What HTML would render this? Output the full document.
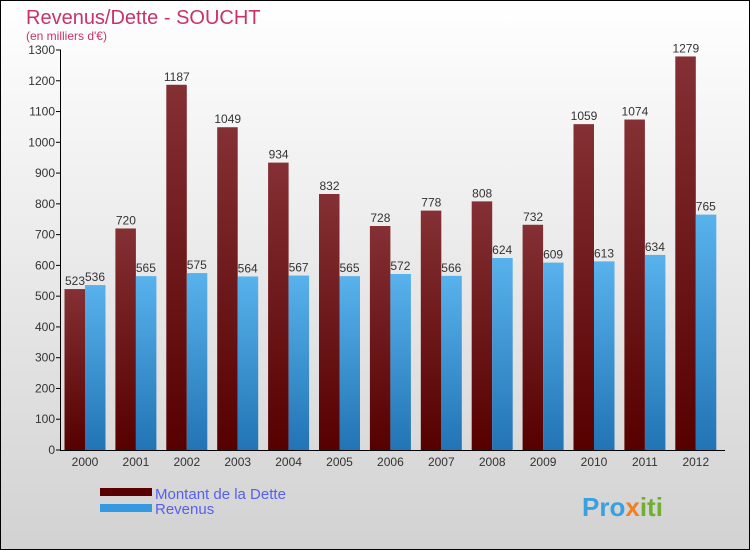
<!DOCTYPE html>
<html><head><meta charset="utf-8"><style>
body{margin:0;width:750px;height:550px;overflow:hidden}
svg{display:block;font-family:"Liberation Sans",sans-serif}
</style></head><body>
<svg id="c" width="750" height="550">
<defs>
<linearGradient id="bg" x1="0" y1="0" x2="0" y2="1"><stop offset="0" stop-color="#ffffff"/><stop offset="1" stop-color="#d2d2d2"/></linearGradient>
<linearGradient id="gd" x1="0" y1="0" x2="0" y2="1"><stop offset="0" stop-color="#843034"/><stop offset="1" stop-color="#560000"/></linearGradient>
<linearGradient id="gr" x1="0" y1="0" x2="0" y2="1"><stop offset="0" stop-color="#58b2ec"/><stop offset="1" stop-color="#2274b4"/></linearGradient>
</defs>
<rect x="0.5" y="0.5" width="749" height="549" fill="url(#bg)" stroke="#000"/>
<text x="26" y="24" font-size="20" fill="#c8336a">Revenus/Dette - SOUCHT</text>
<text x="26" y="40" font-size="12" fill="#c8336a">(en milliers d'€)</text>
<g id="plot"></g>
<rect x="100" y="488" width="52" height="8" fill="#5a0000"/>
<text x="155" y="499" font-size="15" fill="#5560f0">Montant de la Dette</text>
<rect x="100" y="504" width="52" height="8" fill="#3399e0"/>
<text x="155" y="514" font-size="15" fill="#5560f0">Revenus</text>
<text x="582" y="516" font-size="26" font-weight="bold" fill="#3aa0e0">Pro<tspan fill="#f08020">x</tspan><tspan fill="#70b030">iti</tspan></text>
</svg>
<script>
const years=["2000","2001","2002","2003","2004","2005","2006","2007","2008","2009","2010","2011","2012"];
const debt=[523,720,1187,1049,934,832,728,778,808,732,1059,1074,1279];
const revenue=[536,565,575,564,567,565,572,566,624,609,613,634,765];
const yTicks=[0,100,200,300,400,500,600,700,800,900,1000,1100,1200,1300];
const NS="http://www.w3.org/2000/svg";
const g=document.getElementById('plot');
const y=v=>450-v*400/1300;
const x=i=>85+i*50.9;
function mk(t,a,txt){const e=document.createElementNS(NS,t);for(const k in a)e.setAttribute(k,a[k]);if(txt!==undefined)e.textContent=txt;g.appendChild(e);return e;}
yTicks.forEach(v=>{
  const l=mk('line',{x1:56,x2:61,y1:y(v),y2:y(v),stroke:'#000'});
  
  
  const t=mk('text',{x:55,y:y(v)+4,'font-size':12,'text-anchor':'end',fill:'#333'},v);
  
  
});
years.forEach((yr,i)=>{
  const c=x(i);
  const b1=mk('rect',{x:c-20.5,y:y(debt[i]),width:20.5,height:450-y(debt[i]),fill:'url(#gd)'});
  
  
  const b2=mk('rect',{x:c,y:y(revenue[i]),width:20.5,height:450-y(revenue[i]),fill:'url(#gr)'});
  
  
  const t1=mk('text',{x:c-10,y:y(debt[i])-4,'font-size':12,'text-anchor':'middle',fill:'#333'},debt[i]);
  
  
  const t2=mk('text',{x:c+10,y:y(revenue[i])-4,'font-size':12,'text-anchor':'middle',fill:'#333'},revenue[i]);
  
  
  const tl=mk('text',{x:c,y:466,'font-size':12,'text-anchor':'middle',fill:'#333'},yr);
  
  
});
const ax=mk('path',{d:'M60.5 50 V450.5 H725',stroke:'#000',fill:'none'});


</script>
</body></html>
